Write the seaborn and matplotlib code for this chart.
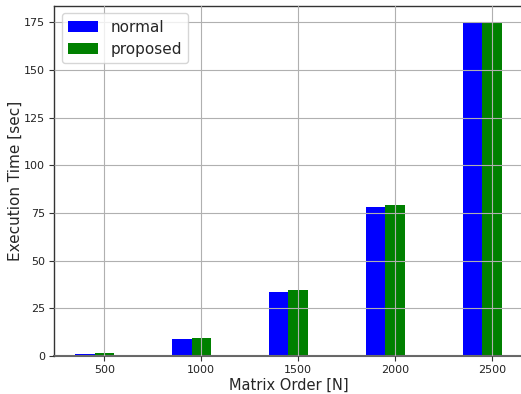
import matplotlib
matplotlib.use("Agg")
import matplotlib.pyplot as plt
import seaborn as sns
import numpy as np

# Matrix order and measured execution times
matrix_order = [500, 1000, 1500, 2000, 2500]
normal_times = [1.0, 8.9, 33.6, 78.3, 174.5]
proposed_times = [1.5, 9.5, 34.7, 79.0, 175.0]
bar_width = 100

sns.set_style("ticks")
plt.rcParams["font.family"] = ["DejaVu Sans"]

fig = plt.figure(figsize=(5.21, 3.94), dpi=100)
ax = fig.add_axes([0.1036, 0.0964, 0.9, 0.889])

x = np.array(matrix_order)
ax.bar(x - bar_width, normal_times, width=bar_width, color="blue",
       linewidth=0, label="normal")
ax.bar(x, proposed_times, width=bar_width, color="green",
       linewidth=0, label="proposed")

ax.set_xticks(matrix_order)
ax.set_yticks([0, 25, 50, 75, 100, 125, 150, 175])
ax.set_xlim(240, 2660)
ax.tick_params(axis="both", labelsize=8, length=3.5, width=0.8, color="#333333",
               labelcolor="#222222", direction="out", pad=3)
ax.grid(True, color="#b0b0b0", linewidth=0.8)
ax.set_axisbelow(False)
for s in ax.spines.values():
    s.set_color("#333333")
    s.set_linewidth(1.0)
ax.spines["right"].set_visible(False)
ax.spines["bottom"].set_color("#666666")
ax.spines["bottom"].set_linewidth(1.5)

ax.set_xlabel("Matrix Order [N]", fontsize=10.5, labelpad=2)
ax.set_ylabel("Execution Time [sec]", fontsize=11, labelpad=1)

ax.legend(loc="upper left", fontsize=11, frameon=True, fancybox=True,
          framealpha=0.8, edgecolor="#cccccc", borderpad=0.4)

fig.savefig("out.png", dpi=100)
